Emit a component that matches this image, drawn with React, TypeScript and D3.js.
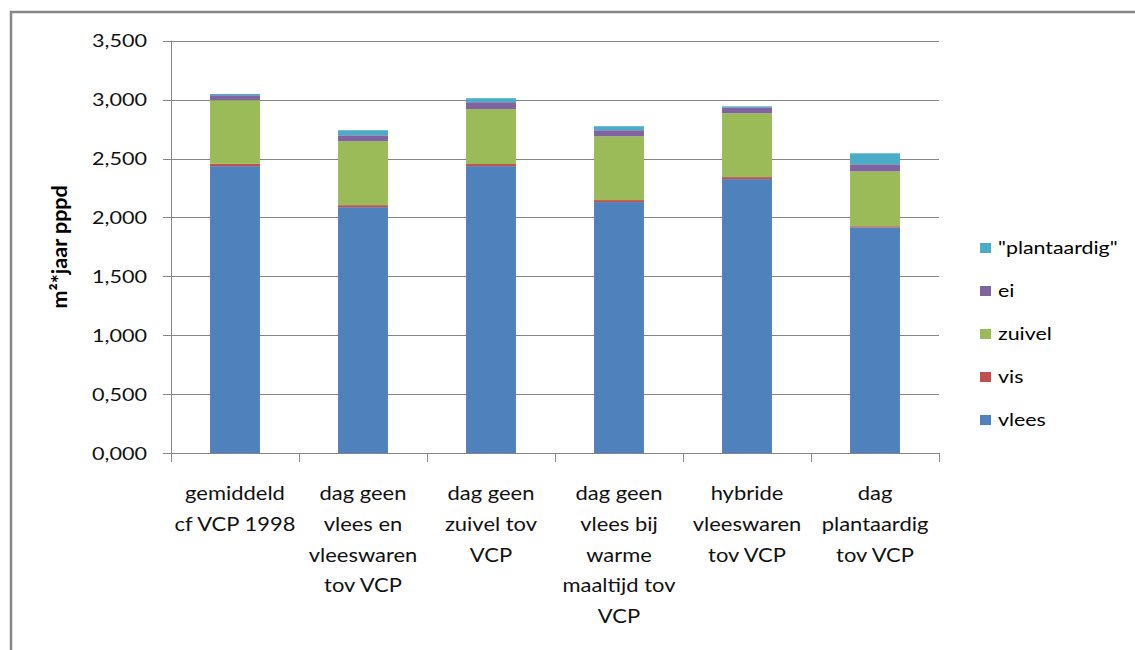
import React from "react";
import * as d3 from "d3";

const categories: string[][] = [
  ["gemiddeld", "cf VCP 1998"],
  ["dag geen", "vlees en", "vleeswaren", "tov VCP"],
  ["dag geen", "zuivel tov", "VCP"],
  ["dag geen", "vlees bij", "warme", "maaltijd tov", "VCP"],
  ["hybride", "vleeswaren", "tov VCP"],
  ["dag", "plantaardig", "tov VCP"],
];
const seriesNames = ["vlees", "vis", "zuivel", "ei", "\"plantaardig\""];
const seriesColors = ["#4F81BD", "#C0504D", "#9BBB59", "#8064A2", "#4BACC6"];
const vlees = [2435, 2087, 2435, 2130, 2325, 1915];
const vis = [20, 17, 18, 17, 17, 10];
const zuivel = [540, 543, 466, 542, 542, 466];
const ei = [42, 50, 59, 51, 50, 60];
const plantaardig = [11, 43, 34, 34, 9, 93];
const tickValues = [0, 500, 1000, 1500, 2000, 2500, 3000, 3500];
const tickLabels = ["0,000", "0,500", "1,000", "1,500", "2,000", "2,500", "3,000", "3,500"];
const yTitle = "m²*jaar pppd";

const W = 1135, H = 650;
const FONT = "Lato, 'Open Sans', sans-serif";
const SX = 1.2;

function T({ x, y, children, anchor = "start", size = 18, sx = SX, weight = "normal", fill = "#000" }: any) {
  return (
    <text
      transform={`translate(${x},${y}) scale(${sx},1)`}
      textAnchor={anchor}
      fontSize={size}
      fontFamily={FONT}
      fontWeight={weight}
      fill={fill}
    >
      {children}
    </text>
  );
}

export default function App() {
  const left = 171, right = 939, top = 40.7, bottom = 453;
  const x = d3.scaleBand<number>().domain(d3.range(categories.length)).range([left, right]).paddingInner(0.61).paddingOuter(0.305);
  const band = d3.scaleBand<number>().domain(d3.range(categories.length)).range([left, right]);
  const y = d3.scaleLinear().domain([0, 3500]).range([bottom, top]);

  const rows = categories.map((_, i) => ({
    i,
    vlees: vlees[i],
    vis: vis[i],
    zuivel: zuivel[i],
    ei: ei[i],
    plantaardig: plantaardig[i],
  }));
  const keys = ["vlees", "vis", "zuivel", "ei", "plantaardig"];
  const stacked = d3.stack<any>().keys(keys)(rows);
  const gray = "#868686";

  const legendX = 980;
  const legendY0 = 243;
  const legendStep = 43;

  return (
    <div style={{ position: "fixed", left: 0, top: 0, width: W, height: H, background: "#fff" }}>
      <svg width={W} height={H} style={{ display: "block" }}>
        <rect x={0} y={0} width={W} height={H} fill="#fff" />
        {/* chart border */}
        <path d={`M11,${H + 5} L11,12 L${W + 5},12`} fill="none" stroke={gray} strokeWidth={2.5} />
        {/* gridlines */}
        {tickValues.slice(1).map((t) => (
          <line key={t} x1={left} x2={right} y1={Math.round(y(t)) + 0.5} y2={Math.round(y(t)) + 0.5} stroke={gray} strokeWidth={1} />
        ))}
        {/* bars */}
        {stacked.map((s, si) => (
          <g key={si} fill={seriesColors[si]}>
            {s.map((d, i) => (
              <rect key={i} x={x(i)} width={x.bandwidth()} y={y(d[1])} height={y(d[0]) - y(d[1])} />
            ))}
          </g>
        ))}
        {/* y axis */}
        <line x1={left + 0.5} x2={left + 0.5} y1={y(3500)} y2={bottom} stroke={gray} strokeWidth={1} />
        {tickValues.map((t, i) => (
          <g key={t}>
            <line x1={left - 8} x2={left} y1={Math.round(y(t)) + 0.5} y2={Math.round(y(t)) + 0.5} stroke={gray} />
            <T x={147} y={y(t) + 6.5} anchor="end" size={18} fill="#111">{tickLabels[i]}</T>
          </g>
        ))}
        {/* x axis */}
        <line x1={left - 8} x2={right} y1={bottom + 0.5} y2={bottom + 0.5} stroke={gray} />
        {d3.range(categories.length + 1).map((i) => {
          const xx = Math.round(i < categories.length ? (band(i) as number) : right) + 0.5;
          return <line key={i} x1={xx} x2={xx} y1={bottom} y2={bottom + 9} stroke={gray} />;
        })}
        {categories.map((lines, i) => (
          <g key={i}>
            {lines.map((ln, j) => (
              <T key={j} x={(band(i) as number) + band.bandwidth() / 2} y={500 + j * 30.8} anchor="middle" size={18.3} fill="#111">
                {ln}
              </T>
            ))}
          </g>
        ))}
        {/* y title */}
        <text
          transform={`translate(67,${(top + bottom) / 2}) rotate(-90)`}
          textAnchor="middle"
          fontSize={21.5}
          fontWeight="bold"
          fontFamily={FONT}
          fill="#000"
        >
          {yTitle}
        </text>
        {/* legend */}
        {seriesNames.map((nm, k) => {
          const idx = seriesNames.length - 1 - k;
          const cy = legendY0 + k * legendStep + 5;
          return (
            <g key={nm}>
              <rect x={legendX} y={cy - 5} width={11} height={10} fill={seriesColors[idx]} />
              <T x={998} y={cy + 6} size={17.8} fill="#000">{seriesNames[idx]}</T>
            </g>
          );
        })}
      </svg>
    </div>
  );
}
